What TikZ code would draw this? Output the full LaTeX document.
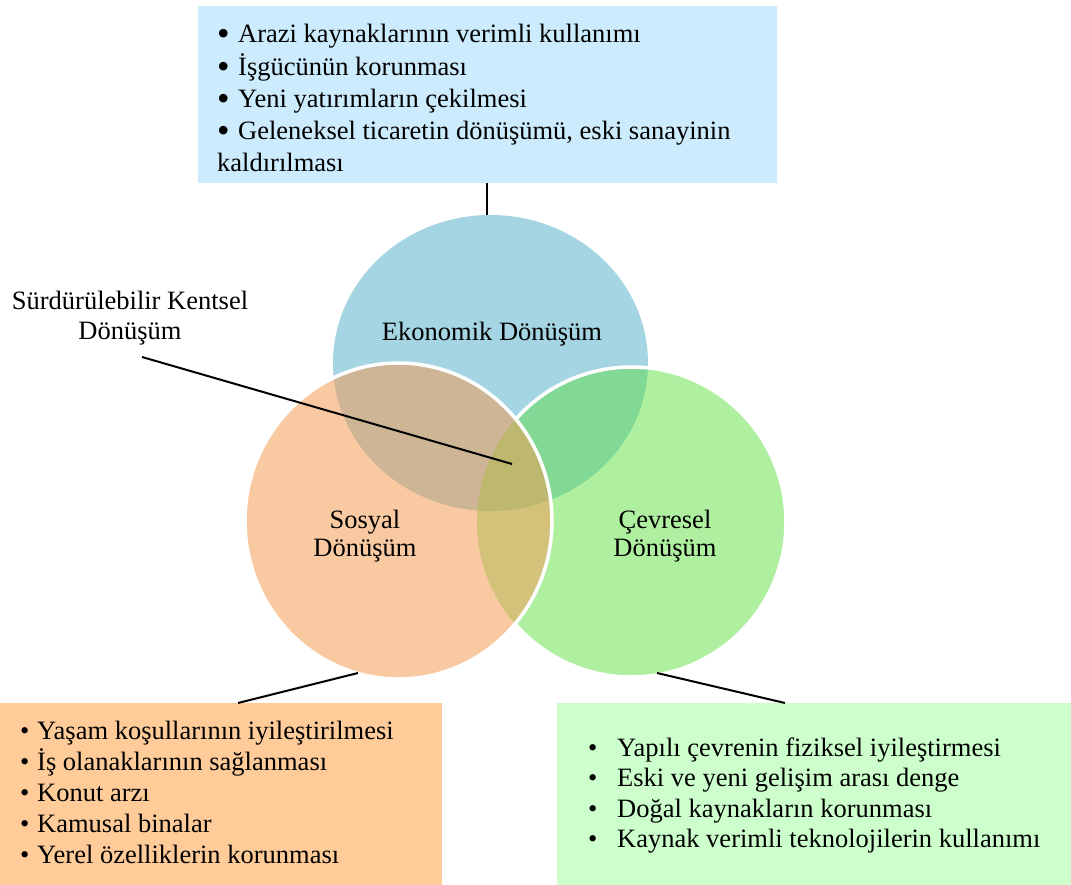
\documentclass[tikz,border=0pt]{standalone}
\usepackage{fontspec}
\setmainfont{Liberation Serif}
\definecolor{ecoC}{HTML}{A5D5E2}
\definecolor{socC}{HTML}{F9CAA2}
\definecolor{envC}{HTML}{AFF0A0}
\definecolor{ecoSoc}{HTML}{CDB596}
\definecolor{ecoEnv}{HTML}{82D996}
\definecolor{socEnv}{HTML}{D4C27A}
\definecolor{allC}{HTML}{BDB86E}
\definecolor{topBoxC}{HTML}{CCEBFC}
\definecolor{leftBoxC}{HTML}{FFCC99}
\definecolor{rightBoxC}{HTML}{CCFFCC}
\newcommand{\bigbul}{\makebox[21pt][l]{\raisebox{-3pt}{\scalebox{1.35}{\textbullet}}}}
\begin{document}
\begin{tikzpicture}[x=1pt,y=-1pt,
  txt/.style={inner sep=0pt, anchor=base west, font=\fontsize{26.5pt}{31pt}\selectfont},
  lbl/.style={inner sep=0pt, anchor=base, font=\fontsize{26.5pt}{31pt}\selectfont},
  boxnode/.style={inner sep=0pt, outer sep=0pt, anchor=north west, draw=none},
  conn/.style={draw=black, line width=2pt},
  ring/.style={draw=white, line width=3.5pt}]
\useasboundingbox (0,0) rectangle (1071,885);
\fill[white] (0,0) rectangle (1071,885);

% centres
\coordinate (cE) at (490.5,363);
\coordinate (cS) at (398.5,521);
\coordinate (cG) at (631.5,522);

% boxes
\node[boxnode, fill=topBoxC, minimum width=579pt, minimum height=177pt] (topbox) at (198,6) {};
\node[boxnode, fill=leftBoxC, minimum width=442pt, minimum height=182pt] (leftbox) at (0,703) {};
\node[boxnode, fill=rightBoxC, minimum width=514pt, minimum height=182pt] (rightbox) at (557,703) {};

% economic
\fill[ecoC] (cE) ellipse [x radius=157.5pt, y radius=148pt];
% environmental
\fill[envC] (cG) ellipse [x radius=154.5pt, y radius=155pt];
\begin{scope}
  \clip (cE) ellipse [x radius=157.5pt, y radius=148pt];
  \fill[ecoEnv] (cG) ellipse [x radius=154.5pt, y radius=155pt];
\end{scope}
\draw[ring] (cG) ellipse [x radius=154.5pt, y radius=155pt];
% social
\fill[socC] (cS) ellipse [x radius=153.5pt, y radius=158pt];
\begin{scope}
  \clip (cS) ellipse [x radius=153.5pt, y radius=158pt];
  \fill[ecoSoc] (cE) ellipse [x radius=157.5pt, y radius=148pt];
  \fill[socEnv] (cG) ellipse [x radius=154.5pt, y radius=155pt];
  \clip (cE) ellipse [x radius=157.5pt, y radius=148pt];
  \fill[allC] (cG) ellipse [x radius=154.5pt, y radius=155pt];
\end{scope}
\draw[ring] (cS) ellipse [x radius=153.5pt, y radius=158pt];

% circle labels
\node[lbl] (ekoLbl) at (492,341) {Ekonomik Dönüşüm};
\node[lbl] (sosLbl1) at (365,528) {Sosyal};
\node[lbl] (sosLbl2) at (365,556) {Dönüşüm};
\node[lbl] (cevLbl1) at (665,528) {Çevresel};
\node[lbl] (cevLbl2) at (665,556) {Dönüşüm};
\node[lbl] (skd1) at (130,309) {Sürdürülebilir Kentsel};
\node[lbl] (skd2) at (130,340) {Dönüşüm};

% connector points
\coordinate (topEnd) at (487,183);
\coordinate (ecoTop) at (487,215);
\coordinate (skdEnd) at (142,357);
\coordinate (centre) at (512,464);
\coordinate (leftEnd) at (238,703);
\coordinate (socBot) at (358,673);
\coordinate (envBot) at (657,673);
\coordinate (rightEnd) at (785,703);
\draw[conn] (topEnd) -- (ecoTop);
\draw[conn] (skdEnd) -- (centre);
\draw[conn] (leftEnd) -- (socBot);
\draw[conn] (envBot) -- (rightEnd);

% top box text
\node[txt] (t1) at (217,43) {\bigbul Arazi kaynaklarının verimli kullanımı};
\node[txt] (t2) at (217,75.3) {\bigbul İşgücünün korunması};
\node[txt] (t3) at (217,107.6) {\bigbul Yeni yatırımların çekilmesi};
\node[txt] (t4) at (217,140) {\bigbul Geleneksel ticaretin dönüşümü, eski sanayinin};
\node[txt] (t5) at (217,172) {kaldırılması};

% left box text
\node[txt] (l1) at (20,739) {\makebox[17pt][l]{\textbullet}Yaşam koşullarının iyileştirilmesi};
\node[txt] (l2) at (20,770.2) {\makebox[17pt][l]{\textbullet}İş olanaklarının sağlanması};
\node[txt] (l3) at (20,801.4) {\makebox[17pt][l]{\textbullet}Konut arzı};
\node[txt] (l4) at (20,832.6) {\makebox[17pt][l]{\textbullet}Kamusal binalar};
\node[txt] (l5) at (20,863.8) {\makebox[17pt][l]{\textbullet}Yerel özelliklerin korunması};

% right box text
\node[txt] (r1) at (588,756) {\makebox[29pt][l]{\textbullet}Yapılı çevrenin fiziksel iyileştirmesi};
\node[txt] (r2) at (588,786.5) {\makebox[29pt][l]{\textbullet}Eski ve yeni gelişim arası denge};
\node[txt] (r3) at (588,817) {\makebox[29pt][l]{\textbullet}Doğal kaynakların korunması};
\node[txt] (r4) at (588,847.5) {\makebox[29pt][l]{\textbullet}Kaynak verimli teknolojilerin kullanımı};
\end{tikzpicture}
\end{document}
